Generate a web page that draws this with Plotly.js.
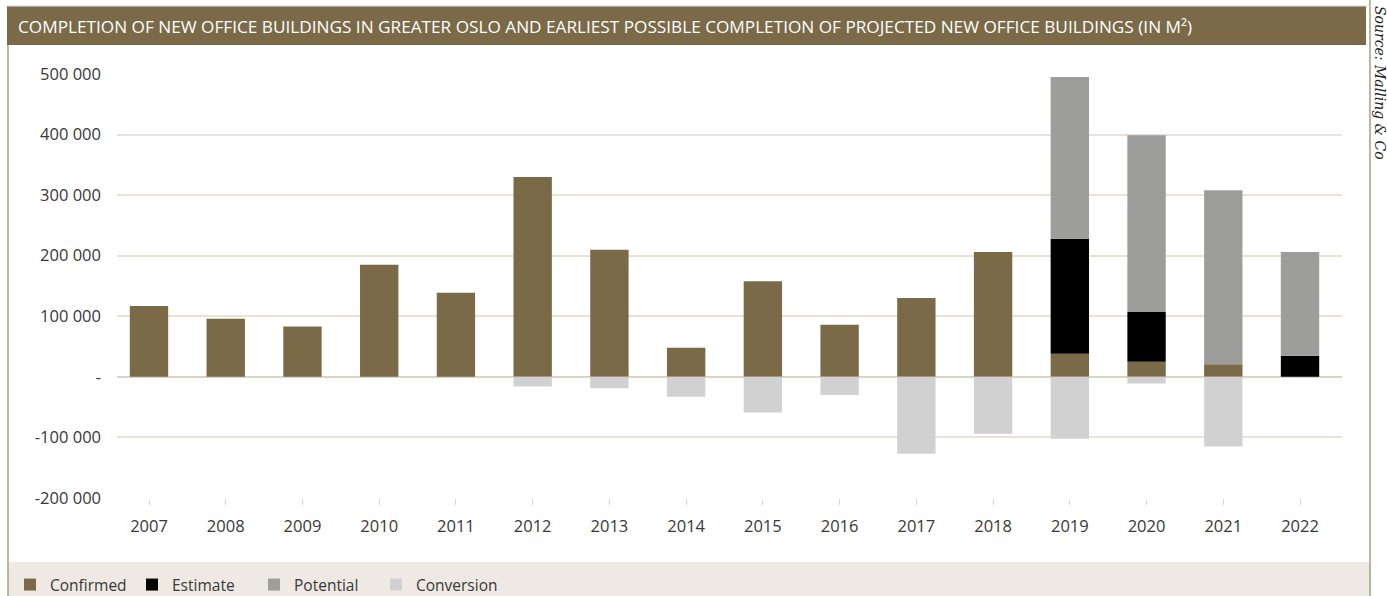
<!DOCTYPE html>
<html>
<head>
<meta charset="utf-8">
<script src="https://cdn.plot.ly/plotly-3.0.1.min.js"></script>
<style>
  html, body { margin: 0; padding: 0; background: #ffffff; }
  #chart { width: 1387px; height: 596px; }
</style>
</head>
<body>
<div id="chart"></div>
<script>
const years = ['2007','2008','2009','2010','2011','2012','2013','2014','2015','2016','2017','2018','2019','2020','2021','2022'];
const confirmed  = [117000, 96000, 83000, 185000, 139000, 330000, 210000, 48000, 158000, 86000, 130000, 206000, 38000, 25000, 21000, 0];
const estimate   = [0, 0, 0, 0, 0, 0, 0, 0, 0, 0, 0, 0, 190000, 82000, 0, 35000];
const potential  = [0, 0, 0, 0, 0, 0, 0, 0, 0, 0, 0, 0, 267000, 292000, 287000, 171000];
const conversion = [0, 0, 0, 0, 0, -16000, -19000, -33000, -59000, -30000, -127000, -94000, -102000, -11000, -115000, 0];
const yTickVals  = [500000, 400000, 300000, 200000, 100000, 0, -100000, -200000];
const yTickText  = ['500 000', '400 000', '300 000', '200 000', '100 000', '-', '-100 000', '-200 000'];
const seriesNames  = ['Confirmed', 'Estimate', 'Potential', 'Conversion'];
const seriesColors = ['#7a6a48', '#000000', '#9d9d9b', '#d1d1d1'];
const titleText = 'COMPLETION OF NEW OFFICE BUILDINGS IN GREATER OSLO AND EARLIEST POSSIBLE COMPLETION OF PROJECTED NEW OFFICE BUILDINGS (IN M²)';
const sourceText = 'Source: Malling &amp; Co';

const FONT = 'Open Sans, Lato, sans-serif';
const seriesData = [confirmed, estimate, potential, conversion];

const traces = seriesData.map((vals, i) => ({
  type: 'bar',
  name: seriesNames[i],
  x: years,
  y: vals,
  width: 0.5,
  marker: { color: seriesColors[i], line: { width: 0 } },
  hoverinfo: 'x+y+name'
}));

// plot area: x 117..1342, y 74..498
const L = 117, R = 1342, T = 74, B = 498;
const W = R - L, H = B - T;
const px = v => (v - L) / W;
const py = v => (B - v) / H;

const layout = {
  width: 1387,
  height: 596,
  margin: { l: L, r: 1387 - R, t: T, b: 596 - B, pad: 0, autoexpand: false },
  paper_bgcolor: '#ffffff',
  plot_bgcolor: '#ffffff',
  barmode: 'relative',
  bargap: 0.5,
  font: { family: FONT, color: '#383838', size: 16 },
  title: {
    text: titleText,
    font: { family: FONT, size: 17.2, color: '#ffffff' },
    xref: 'container', yref: 'container',
    x: 18 / 1387, xanchor: 'left',
    y: 1 - 27 / 596, yanchor: 'middle'
  },
  xaxis: {
    type: 'category',
    range: [-0.417, 15.547],
    showgrid: false,
    showline: false,
    zeroline: false,
    ticks: 'outside',
    ticklen: 6,
    tickwidth: 1,
    tickcolor: '#ddd6c8',
    tickfont: { family: FONT, size: 16.5, color: '#383838' },
    ticklabelstandoff: 7
  },
  yaxis: {
    range: [-200000, 500000],
    tickvals: yTickVals,
    ticktext: yTickText,
    showgrid: true,
    gridcolor: '#e8e2d7',
    gridwidth: 2,
    zeroline: true,
    zerolinecolor: '#ddd3c1',
    zerolinewidth: 2,
    showline: false,
    ticks: '',
    tickfont: { family: FONT, size: 16.5, color: '#383838' },
    ticklabelstandoff: 15
  },
  showlegend: true,
  legend: {
    orientation: 'h',
    xref: 'container', yref: 'container',
    x: 10 / 1387, xanchor: 'left',
    y: (596 - 585) / 596, yanchor: 'middle',
    bgcolor: 'rgba(0,0,0,0)',
    font: { family: FONT, size: 15.5, color: '#383838' },
    itemwidth: 30,
    entrywidth: 77,
    traceorder: 'normal'
  },
  shapes: [
    { type: 'rect', xref: 'paper', yref: 'paper', layer: 'below',
      x0: px(7), x1: px(1366), y0: py(45), y1: py(6),
      fillcolor: '#7a6a48', line: { width: 0 } },
    { type: 'rect', xref: 'paper', yref: 'paper', layer: 'below',
      x0: px(8), x1: px(1370), y0: py(596), y1: py(562),
      fillcolor: '#eee9e3', line: { width: 0 } },
    { type: 'line', xref: 'paper', yref: 'paper',
      x0: px(8), x1: px(8), y0: py(45), y1: py(596),
      line: { color: '#a89c84', width: 1.5 } },
    { type: 'line', xref: 'paper', yref: 'paper',
      x0: px(1370), x1: px(1370), y0: py(0), y1: py(596),
      line: { color: '#a89c84', width: 1.5 } },
    { type: 'line', xref: 'paper', yref: 'paper',
      x0: px(7), x1: px(1370), y0: py(6), y1: py(6),
      line: { color: '#dddddd', width: 1 } }
  ],
  annotations: [
    { text: '<i>' + sourceText + '</i>', xref: 'paper', yref: 'paper',
      x: px(1380), y: py(4), xanchor: 'center', yanchor: 'top',
      textangle: 90, showarrow: false,
      font: { family: 'DejaVu Serif, Liberation Serif, serif', size: 14, color: '#222222' } }
  ]
};

Plotly.newPlot('chart', traces, layout, { displayModeBar: false, staticPlot: true });
</script>
</body>
</html>
